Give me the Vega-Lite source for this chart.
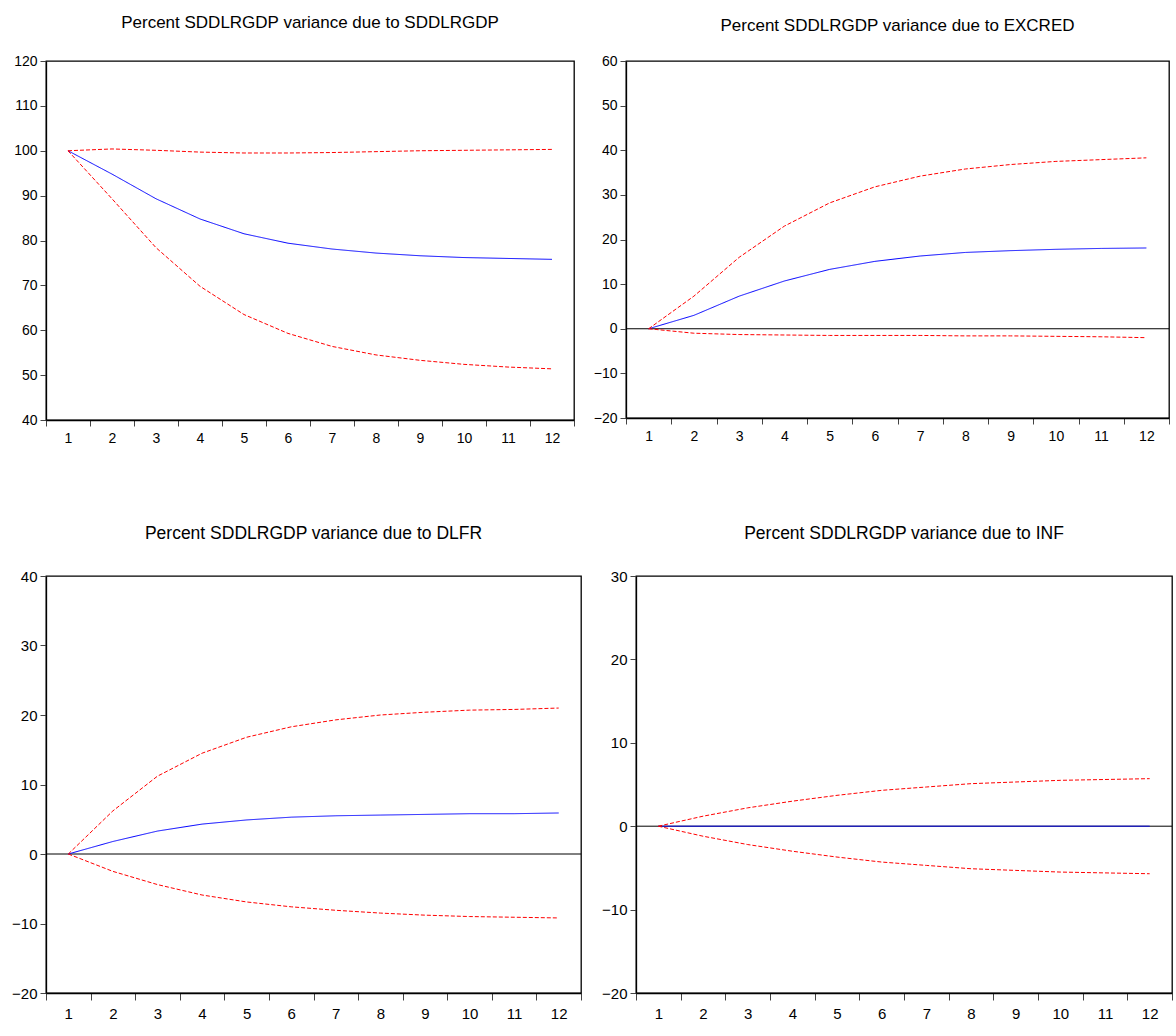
{
  "$schema": "https://vega.github.io/schema/vega-lite/v6.json",
  "padding": {"left": 0, "top": 13, "right": 0, "bottom": 0},
  "background": "white",
  "config": {
    "view": {"stroke": "black", "strokeWidth": 1.3},
    "axis": {"grid": false, "title": null, "domainColor": "black", "tickColor": "#444", "labelColor": "black", "domainWidth": 1.3},
    "title": {"fontWeight": "normal", "color": "black", "anchor": "middle"}
  },
  "datasets": {
    "d": [
      {"p":"A","s":"mean","t":1,"v":100},{"p":"A","s":"mean","t":2,"v":94.8},{"p":"A","s":"mean","t":3,"v":89.3},{"p":"A","s":"mean","t":4,"v":84.8},{"p":"A","s":"mean","t":5,"v":81.5},{"p":"A","s":"mean","t":6,"v":79.4},{"p":"A","s":"mean","t":7,"v":78.1},{"p":"A","s":"mean","t":8,"v":77.2},{"p":"A","s":"mean","t":9,"v":76.6},{"p":"A","s":"mean","t":10,"v":76.2},{"p":"A","s":"mean","t":11,"v":76.0},{"p":"A","s":"mean","t":12,"v":75.8},
      {"p":"A","s":"upper","t":1,"v":100},{"p":"A","s":"upper","t":2,"v":100.4},{"p":"A","s":"upper","t":3,"v":100.1},{"p":"A","s":"upper","t":4,"v":99.7},{"p":"A","s":"upper","t":5,"v":99.5},{"p":"A","s":"upper","t":6,"v":99.5},{"p":"A","s":"upper","t":7,"v":99.6},{"p":"A","s":"upper","t":8,"v":99.8},{"p":"A","s":"upper","t":9,"v":100.0},{"p":"A","s":"upper","t":10,"v":100.1},{"p":"A","s":"upper","t":11,"v":100.2},{"p":"A","s":"upper","t":12,"v":100.3},
      {"p":"A","s":"lower","t":1,"v":100},{"p":"A","s":"lower","t":2,"v":89.3},{"p":"A","s":"lower","t":3,"v":78.4},{"p":"A","s":"lower","t":4,"v":69.8},{"p":"A","s":"lower","t":5,"v":63.5},{"p":"A","s":"lower","t":6,"v":59.3},{"p":"A","s":"lower","t":7,"v":56.4},{"p":"A","s":"lower","t":8,"v":54.5},{"p":"A","s":"lower","t":9,"v":53.3},{"p":"A","s":"lower","t":10,"v":52.4},{"p":"A","s":"lower","t":11,"v":51.8},{"p":"A","s":"lower","t":12,"v":51.4},
      {"p":"B","s":"mean","t":1,"v":0},{"p":"B","s":"mean","t":2,"v":3.0},{"p":"B","s":"mean","t":3,"v":7.3},{"p":"B","s":"mean","t":4,"v":10.7},{"p":"B","s":"mean","t":5,"v":13.3},{"p":"B","s":"mean","t":6,"v":15.1},{"p":"B","s":"mean","t":7,"v":16.3},{"p":"B","s":"mean","t":8,"v":17.1},{"p":"B","s":"mean","t":9,"v":17.5},{"p":"B","s":"mean","t":10,"v":17.8},{"p":"B","s":"mean","t":11,"v":18.0},{"p":"B","s":"mean","t":12,"v":18.1},
      {"p":"B","s":"upper","t":1,"v":0},{"p":"B","s":"upper","t":2,"v":7.3},{"p":"B","s":"upper","t":3,"v":16.0},{"p":"B","s":"upper","t":4,"v":23.0},{"p":"B","s":"upper","t":5,"v":28.2},{"p":"B","s":"upper","t":6,"v":31.8},{"p":"B","s":"upper","t":7,"v":34.2},{"p":"B","s":"upper","t":8,"v":35.8},{"p":"B","s":"upper","t":9,"v":36.8},{"p":"B","s":"upper","t":10,"v":37.5},{"p":"B","s":"upper","t":11,"v":37.9},{"p":"B","s":"upper","t":12,"v":38.3},
      {"p":"B","s":"lower","t":1,"v":0},{"p":"B","s":"lower","t":2,"v":-1.0},{"p":"B","s":"lower","t":3,"v":-1.3},{"p":"B","s":"lower","t":4,"v":-1.4},{"p":"B","s":"lower","t":5,"v":-1.5},{"p":"B","s":"lower","t":6,"v":-1.5},{"p":"B","s":"lower","t":7,"v":-1.5},{"p":"B","s":"lower","t":8,"v":-1.6},{"p":"B","s":"lower","t":9,"v":-1.6},{"p":"B","s":"lower","t":10,"v":-1.7},{"p":"B","s":"lower","t":11,"v":-1.8},{"p":"B","s":"lower","t":12,"v":-2.0},
      {"p":"C","s":"mean","t":1,"v":0},{"p":"C","s":"mean","t":2,"v":1.8},{"p":"C","s":"mean","t":3,"v":3.3},{"p":"C","s":"mean","t":4,"v":4.3},{"p":"C","s":"mean","t":5,"v":4.9},{"p":"C","s":"mean","t":6,"v":5.3},{"p":"C","s":"mean","t":7,"v":5.5},{"p":"C","s":"mean","t":8,"v":5.6},{"p":"C","s":"mean","t":9,"v":5.7},{"p":"C","s":"mean","t":10,"v":5.8},{"p":"C","s":"mean","t":11,"v":5.8},{"p":"C","s":"mean","t":12,"v":5.9},
      {"p":"C","s":"upper","t":1,"v":0},{"p":"C","s":"upper","t":2,"v":6.2},{"p":"C","s":"upper","t":3,"v":11.2},{"p":"C","s":"upper","t":4,"v":14.5},{"p":"C","s":"upper","t":5,"v":16.8},{"p":"C","s":"upper","t":6,"v":18.3},{"p":"C","s":"upper","t":7,"v":19.3},{"p":"C","s":"upper","t":8,"v":20.0},{"p":"C","s":"upper","t":9,"v":20.4},{"p":"C","s":"upper","t":10,"v":20.7},{"p":"C","s":"upper","t":11,"v":20.8},{"p":"C","s":"upper","t":12,"v":21.0},
      {"p":"C","s":"lower","t":1,"v":0},{"p":"C","s":"lower","t":2,"v":-2.5},{"p":"C","s":"lower","t":3,"v":-4.4},{"p":"C","s":"lower","t":4,"v":-5.9},{"p":"C","s":"lower","t":5,"v":-6.9},{"p":"C","s":"lower","t":6,"v":-7.6},{"p":"C","s":"lower","t":7,"v":-8.1},{"p":"C","s":"lower","t":8,"v":-8.5},{"p":"C","s":"lower","t":9,"v":-8.8},{"p":"C","s":"lower","t":10,"v":-9.0},{"p":"C","s":"lower","t":11,"v":-9.1},{"p":"C","s":"lower","t":12,"v":-9.2},
      {"p":"D","s":"mean","t":1,"v":0},{"p":"D","s":"mean","t":2,"v":0},{"p":"D","s":"mean","t":3,"v":0},{"p":"D","s":"mean","t":4,"v":0},{"p":"D","s":"mean","t":5,"v":0},{"p":"D","s":"mean","t":6,"v":0},{"p":"D","s":"mean","t":7,"v":0},{"p":"D","s":"mean","t":8,"v":0},{"p":"D","s":"mean","t":9,"v":0},{"p":"D","s":"mean","t":10,"v":0},{"p":"D","s":"mean","t":11,"v":0},{"p":"D","s":"mean","t":12,"v":0},
      {"p":"D","s":"upper","t":1,"v":0},{"p":"D","s":"upper","t":2,"v":1.2},{"p":"D","s":"upper","t":3,"v":2.2},{"p":"D","s":"upper","t":4,"v":3.0},{"p":"D","s":"upper","t":5,"v":3.7},{"p":"D","s":"upper","t":6,"v":4.3},{"p":"D","s":"upper","t":7,"v":4.7},{"p":"D","s":"upper","t":8,"v":5.1},{"p":"D","s":"upper","t":9,"v":5.3},{"p":"D","s":"upper","t":10,"v":5.5},{"p":"D","s":"upper","t":11,"v":5.6},{"p":"D","s":"upper","t":12,"v":5.7},
      {"p":"D","s":"lower","t":1,"v":0},{"p":"D","s":"lower","t":2,"v":-1.2},{"p":"D","s":"lower","t":3,"v":-2.2},{"p":"D","s":"lower","t":4,"v":-3.0},{"p":"D","s":"lower","t":5,"v":-3.7},{"p":"D","s":"lower","t":6,"v":-4.3},{"p":"D","s":"lower","t":7,"v":-4.7},{"p":"D","s":"lower","t":8,"v":-5.1},{"p":"D","s":"lower","t":9,"v":-5.3},{"p":"D","s":"lower","t":10,"v":-5.5},{"p":"D","s":"lower","t":11,"v":-5.6},{"p":"D","s":"lower","t":12,"v":-5.7}
    ]
  },
  "vconcat": [
    {
      "hconcat": [
        {
          "width": 528, "height": 359,
          "title": {"text": "Percent SDDLRGDP variance due to SDDLRGDP", "font": "Liberation Sans", "fontSize": 17, "offset": 22},
          "data": {"name": "d"},
          "transform": [{"filter": "datum.p === 'A'"}],
          "mark": {"type": "line", "strokeWidth": 1},
          "encoding": {
            "x": {"field": "t", "type": "ordinal", "scale": {"paddingInner": 0, "paddingOuter": 0}, "axis": {"labelAngle": 0, "tickBand": "extent", "tickSize": 6, "labelPadding": 5, "labelFont": "Liberation Sans", "labelFontSize": 14}},
            "y": {"field": "v", "type": "quantitative", "scale": {"domain": [40, 120], "nice": false, "zero": false}, "axis": {"values": [40,50,60,70,80,90,100,110,120], "tickSize": 6, "labelPadding": 3, "labelFont": "Liberation Sans", "labelFontSize": 14, "minExtent": 45, "maxExtent": 45}},
            "color": {"field": "s", "type": "nominal", "scale": {"domain": ["mean","upper","lower"], "range": ["#0000ff","#ff0000","#ff0000"]}, "legend": null},
            "strokeDash": {"field": "s", "type": "nominal", "scale": {"domain": ["mean","upper","lower"], "range": [[1,0],[4,2],[4,2]]}, "legend": null}
          }
        },
        {
          "width": 543, "height": 357,
          "title": {"text": "Percent SDDLRGDP variance due to EXCRED", "font": "Liberation Sans", "fontSize": 17, "offset": 19},
          "layer": [
            {
              "data": {"values": [{"z": 0}]},
              "mark": {"type": "rule", "color": "black", "strokeWidth": 1},
              "encoding": {"y": {"field": "z", "type": "quantitative"}}
            },
            {
              "data": {"name": "d"},
              "transform": [{"filter": "datum.p === 'B'"}],
              "mark": {"type": "line", "strokeWidth": 1},
              "encoding": {
                "x": {"field": "t", "type": "ordinal", "scale": {"paddingInner": 0, "paddingOuter": 0}, "axis": {"labelAngle": 0, "tickBand": "extent", "tickSize": 6, "labelPadding": 5, "labelFont": "Liberation Sans", "labelFontSize": 14}},
                "y": {"field": "v", "type": "quantitative", "scale": {"domain": [-20, 60], "nice": false, "zero": false}, "axis": {"values": [-20,-10,0,10,20,30,40,50,60], "tickSize": 6, "labelPadding": 3, "labelFont": "Liberation Sans", "labelFontSize": 14, "minExtent": 45, "maxExtent": 45}},
                "color": {"field": "s", "type": "nominal", "scale": {"domain": ["mean","upper","lower"], "range": ["#0000ff","#ff0000","#ff0000"]}, "legend": null},
                "strokeDash": {"field": "s", "type": "nominal", "scale": {"domain": ["mean","upper","lower"], "range": [[1,0],[4,2],[4,2]]}, "legend": null}
              }
            }
          ]
        }
      ],
      "spacing": 4
    },
    {
      "hconcat": [
        {
          "width": 535, "height": 417,
          "title": {"text": "Percent SDDLRGDP variance due to DLFR", "font": "Liberation Sans", "fontSize": 17.5, "offset": 27},
          "layer": [
            {
              "data": {"values": [{"z": 0}]},
              "mark": {"type": "rule", "color": "black", "strokeWidth": 1},
              "encoding": {"y": {"field": "z", "type": "quantitative"}}
            },
            {
              "data": {"name": "d"},
              "transform": [{"filter": "datum.p === 'C'"}],
              "mark": {"type": "line", "strokeWidth": 1},
              "encoding": {
                "x": {"field": "t", "type": "ordinal", "scale": {"paddingInner": 0, "paddingOuter": 0}, "axis": {"labelAngle": 0, "tickBand": "extent", "tickSize": 7, "labelPadding": 6, "labelFont": "Liberation Sans", "labelFontSize": 15}},
                "y": {"field": "v", "type": "quantitative", "scale": {"domain": [-20, 40], "nice": false, "zero": false}, "axis": {"values": [-20,-10,0,10,20,30,40], "tickSize": 6, "labelPadding": 3, "labelFont": "Liberation Sans", "labelFontSize": 15, "minExtent": 43, "maxExtent": 43}},
                "color": {"field": "s", "type": "nominal", "scale": {"domain": ["mean","upper","lower"], "range": ["#0000ff","#ff0000","#ff0000"]}, "legend": null},
                "strokeDash": {"field": "s", "type": "nominal", "scale": {"domain": ["mean","upper","lower"], "range": [[1,0],[4,2],[4,2]]}, "legend": null}
              }
            }
          ]
        },
        {
          "width": 536, "height": 417,
          "title": {"text": "Percent SDDLRGDP variance due to INF", "font": "Liberation Sans", "fontSize": 17.5, "offset": 27},
          "layer": [
            {
              "data": {"values": [{"z": 0}]},
              "mark": {"type": "rule", "color": "black", "strokeWidth": 1},
              "encoding": {"y": {"field": "z", "type": "quantitative"}}
            },
            {
              "data": {"name": "d"},
              "transform": [{"filter": "datum.p === 'D'"}],
              "mark": {"type": "line", "strokeWidth": 1},
              "encoding": {
                "x": {"field": "t", "type": "ordinal", "scale": {"paddingInner": 0, "paddingOuter": 0}, "axis": {"labelAngle": 0, "tickBand": "extent", "tickSize": 7, "labelPadding": 6, "labelFont": "Liberation Sans", "labelFontSize": 15}},
                "y": {"field": "v", "type": "quantitative", "scale": {"domain": [-20, 30], "nice": false, "zero": false}, "axis": {"values": [-20,-10,0,10,20,30], "tickSize": 6, "labelPadding": 3, "labelFont": "Liberation Sans", "labelFontSize": 15, "minExtent": 45, "maxExtent": 45}},
                "color": {"field": "s", "type": "nominal", "scale": {"domain": ["mean","upper","lower"], "range": ["#0000ff","#ff0000","#ff0000"]}, "legend": null},
                "strokeDash": {"field": "s", "type": "nominal", "scale": {"domain": ["mean","upper","lower"], "range": [[1,0],[4,2],[4,2]]}, "legend": null}
              }
            }
          ]
        }
      ],
      "spacing": 7
    }
  ],
  "spacing": 77
}
